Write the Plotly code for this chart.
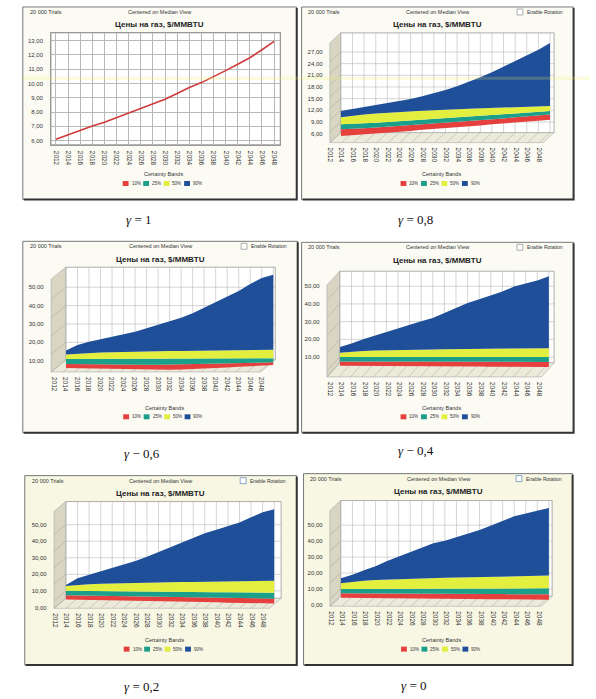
import plotly.graph_objects as go

W, H = 596, 699

years = [2012, 2014, 2016, 2018, 2020, 2022, 2024, 2026, 2028, 2030,
         2032, 2034, 2036, 2038, 2040, 2042, 2044, 2046, 2048]

band_names = ["10%", "25%", "50%", "90%"]
band_colors = ["#e5403d", "#1b9e8a", "#e3ef3e", "#1f4f99"]
line_color = "#cf3b3b"

# gamma = 1 : every certainty band collapses onto the median line
g10_median = [6.10, 6.42, 6.75, 7.02, 7.28, 7.60, 7.92, 8.24, 8.56, 8.90,
              9.30, 9.72, 10.06, 10.46, 10.90, 11.34, 11.80, 12.36, 12.95]

# gamma = 0,8 : visible edges of the ribbons (red bottom, then tops)
g08_red_lo = [5.4, 5.6, 5.8, 6.0, 6.2, 6.5, 6.7, 7.0, 7.2, 7.4,
              7.7, 7.9, 8.1, 8.4, 8.6, 8.8, 9.1, 9.3, 9.6]
g08_red_hi = [7.1, 7.2, 7.4, 7.6, 7.8, 8.0, 8.2, 8.4, 8.6, 8.8,
              9.0, 9.2, 9.5, 9.7, 9.9, 10.2, 10.4, 10.6, 10.9]
g08_teal_hi = [8.4, 8.5, 8.7, 8.8, 9.0, 9.2, 9.4, 9.5, 9.7, 9.9,
               10.1, 10.3, 10.5, 10.7, 10.9, 11.1, 11.3, 11.6, 11.8]
g08_yellow_hi = [10.2, 10.6, 10.9, 11.2, 11.4, 11.6, 11.8, 11.9, 12.0, 12.2,
                 12.3, 12.4, 12.5, 12.6, 12.7, 12.8, 12.9, 13.0, 13.1]
g08_blue_hi = [11.8, 12.3, 12.9, 13.4, 13.8, 14.3, 14.9, 15.6, 16.4, 17.2,
               18.2, 19.3, 20.5, 21.8, 23.2, 24.6, 26.0, 27.6, 29.3]

# gamma = 0,6
g06_red_lo = [6.0, 5.9, 5.7, 5.6, 5.4, 5.3, 5.2, 5.1, 5.1, 5.1,
              5.2, 5.4, 5.7, 6.0, 6.3, 6.7, 7.0, 7.3, 7.6]
g06_red_hi = [8.2, 8.1, 8.0, 8.0, 7.9, 7.9, 7.8, 7.8, 7.8, 7.9,
              8.0, 8.1, 8.3, 8.4, 8.6, 8.7, 8.9, 9.0, 9.1]
g06_teal_hi = [10.9, 10.9, 11.0, 11.0, 11.0, 11.0, 11.1, 11.1, 11.1, 11.1,
               11.2, 11.2, 11.2, 11.2, 11.2, 11.3, 11.3, 11.3, 11.3]
g06_yellow_hi = [13.3, 13.8, 14.1, 14.4, 14.6, 14.8, 14.9, 15.0, 15.1, 15.2,
                 15.3, 15.4, 15.5, 15.6, 15.7, 15.8, 15.8, 15.9, 16.0]
g06_blue_hi = [15.5, 18.5, 20.3, 21.6, 22.9, 24.2, 25.7, 27.6, 29.4, 31.3,
               33.4, 35.8, 38.8, 41.8, 44.9, 48.0, 51.8, 55.0, 56.8]

# gamma = 0,4
g04_red_lo = [5.0, 5.0, 4.9, 4.9, 4.8, 4.8, 4.8, 4.7, 4.7, 4.7,
              4.6, 4.6, 4.6, 4.5, 4.5, 4.5, 4.4, 4.4, 4.4]
g04_red_hi = [7.5, 7.5, 7.5, 7.4, 7.4, 7.4, 7.4, 7.3, 7.3, 7.3,
              7.3, 7.3, 7.3, 7.2, 7.2, 7.2, 7.2, 7.2, 7.2]
g04_teal_hi = [10.0, 10.0, 10.1, 10.1, 10.1, 10.0, 10.0, 10.0, 9.9, 9.9,
               9.9, 10.0, 10.0, 10.0, 10.0, 10.1, 10.1, 10.0, 10.0]
g04_yellow_hi = [12.4, 13.0, 13.4, 13.7, 13.9, 14.0, 14.1, 14.2, 14.3, 14.4,
                 14.5, 14.5, 14.6, 14.7, 14.8, 14.8, 14.9, 14.9, 15.0]
g04_blue_hi = [15.6, 17.6, 20.1, 22.2, 24.2, 26.2, 28.2, 30.2, 32.1, 34.8,
               37.8, 40.5, 42.7, 44.8, 47.0, 49.8, 51.4, 53.2, 55.6]

# gamma = 0,2
g02_red_lo = [4.8, 4.7, 4.5, 4.4, 4.3, 4.1, 4.0, 3.9, 3.7, 3.6,
              3.5, 3.3, 3.2, 3.1, 2.9, 2.8, 2.7, 2.5, 2.4]
g02_red_hi = [7.3, 7.2, 7.1, 7.0, 6.9, 6.8, 6.7, 6.5, 6.4, 6.3,
              6.2, 6.1, 6.0, 5.9, 5.8, 5.6, 5.5, 5.4, 5.3]
g02_teal_hi = [10.1, 10.0, 10.0, 9.9, 9.8, 9.8, 9.7, 9.6, 9.6, 9.5,
               9.4, 9.4, 9.3, 9.2, 9.2, 9.1, 9.0, 9.0, 8.9]
g02_yellow_hi = [12.9, 13.6, 14.0, 14.3, 14.5, 14.7, 14.9, 15.0, 15.1, 15.2,
                 15.3, 15.4, 15.5, 15.6, 15.7, 15.8, 15.9, 16.0, 16.1]
g02_blue_hi = [13.5, 17.6, 19.8, 21.9, 24.0, 25.9, 28.0, 30.6, 33.5, 36.4,
               39.5, 42.3, 44.9, 47.0, 49.2, 51.3, 54.5, 57.5, 59.4]

# gamma = 0
g00_red_lo = [4.5, 4.4, 4.4, 4.3, 4.2, 4.2, 4.1, 4.0, 4.0, 3.9,
              3.8, 3.8, 3.7, 3.6, 3.6, 3.5, 3.4, 3.3, 3.2]
g00_red_hi = [7.3, 7.3, 7.2, 7.2, 7.2, 7.1, 7.1, 7.1, 7.0, 7.0,
              7.0, 6.9, 6.9, 6.9, 6.8, 6.8, 6.8, 6.7, 6.7]
g00_teal_hi = [10.0, 10.0, 10.0, 10.1, 10.1, 10.1, 10.1, 10.2, 10.2, 10.2,
               10.2, 10.3, 10.3, 10.3, 10.3, 10.3, 10.4, 10.4, 10.4]
g00_yellow_hi = [13.6, 14.6, 15.2, 15.6, 15.9, 16.2, 16.4, 16.6, 16.8, 17.0,
                 17.2, 17.4, 17.6, 17.8, 17.9, 18.0, 18.2, 18.3, 18.4]
g00_blue_hi = [16.7, 19.0, 21.8, 24.3, 27.5, 30.3, 33.0, 35.6, 38.6, 40.3,
               42.5, 44.6, 47.0, 49.8, 52.5, 55.5, 57.3, 59.0, 60.8]

captions = ["<i>γ</i> = 1", "<i>γ</i> = 0,8", "<i>γ</i> − 0,6",
            "<i>γ</i> − 0,4", "<i>γ</i> = 0,2", "<i>γ</i> = 0"]

y_ticks = [
    [6, 7, 8, 9, 10, 11, 12, 13],
    [6, 9, 12, 15, 18, 21, 24, 27],
    [10, 20, 30, 40, 50],
    [10, 20, 30, 40, 50],
    [0, 10, 20, 30, 40, 50],
    [0, 10, 20, 30, 40, 50],
]

panel_edges = [
    [g10_median],
    [g08_red_lo, g08_red_hi, g08_teal_hi, g08_yellow_hi, g08_blue_hi],
    [g06_red_lo, g06_red_hi, g06_teal_hi, g06_yellow_hi, g06_blue_hi],
    [g04_red_lo, g04_red_hi, g04_teal_hi, g04_yellow_hi, g04_blue_hi],
    [g02_red_lo, g02_red_hi, g02_teal_hi, g02_yellow_hi, g02_blue_hi],
    [g00_red_lo, g00_red_hi, g00_teal_hi, g00_yellow_hi, g00_blue_hi],
]

# layout in pixels: panel box, plot area, axis ranges, 3d wall (depth x, depth y)
panels = [
    dict(box=(8, 7, 289, 200), plot=(37, 33, 272, 145), xr=(2011.2, 2049.0),
         yr=(5.72, 13.54), wall=(0, 0), shift=0, cap=(127, 220), tint="#fbfbf4"),
    dict(box=(294, 7, 573, 200), plot=(334, 33, 553, 143), xr=(2011.95, 2048.7),
         yr=(3.7, 31.9), wall=(11, 10), shift=-11, cap=(411, 220), tint="#fbfbf4"),
    dict(box=(8, 242, 290, 434), plot=(52, 268, 267, 373), xr=(2011.95, 2048.35),
         yr=(3.86, 60.9), wall=(15, 12), shift=-12, cap=(130, 455), tint="#fbfbf4"),
    dict(box=(294, 243, 573, 434), plot=(333, 272, 553, 378), xr=(2011.95, 2048.9),
         yr=(-1.27, 58.5), wall=(13, 14), shift=-10, cap=(411, 452), tint="#fbfbf4"),
    dict(box=(10, 477, 289, 667), plot=(52, 503, 273, 610), xr=(2011.95, 2049.2),
         yr=(-0.5, 64), wall=(12, 10), shift=-11, cap=(130, 688), tint="#f7f7e4"),
    dict(box=(296, 475, 572, 667), plot=(334, 502, 551, 608), xr=(2011.95, 2048.56),
         yr=(-0.8, 65.4), wall=(11, 10), shift=-10, cap=(409, 687), tint="#f7f7e4"),
]

SANS = "Liberation Sans, Arial, sans-serif"
SERIF = "Liberation Serif, Times New Roman, serif"
grid = "#b8b8b8"


def px(x):
    return x / W


def py(y):
    return 1 - y / H


def seg(xa, ya, xb, yb, color, width=0.6):
    return dict(type="line", xref="paper", yref="paper", layer="below",
                x0=px(xa), y0=py(ya), x1=px(xb), y1=py(yb),
                line=dict(color=color, width=width))


fig = go.Figure()
shapes = []
annotations = []
axes = {}

for i, p in enumerate(panels):
    n = "" if i == 0 else str(i + 1)
    xa, ya = "x" + n, "y" + n
    bx0, by0, bx1, by1 = p["box"]
    x0, y0, x1, y1 = p["plot"]
    d, e = p["wall"]
    ylo, yhi = p["yr"]
    xlo, xhi = p["xr"]
    cx = (bx0 + bx1) / 2
    edges = panel_edges[i]
    flat = d == 0

    # traces
    if len(edges) == 1:
        fig.add_trace(go.Scatter(x=years, y=edges[0], mode="lines",
                                 line=dict(color=line_color, width=1.6),
                                 xaxis=xa, yaxis=ya, showlegend=False, hoverinfo="skip"))
    else:
        fig.add_trace(go.Scatter(x=years, y=edges[0], mode="lines", line=dict(width=0),
                                 xaxis=xa, yaxis=ya, showlegend=False, hoverinfo="skip"))
        for k in range(4):
            fig.add_trace(go.Scatter(x=years, y=edges[k + 1], mode="lines",
                                     line=dict(width=0, color=band_colors[k]),
                                     fill="tonexty", fillcolor=band_colors[k],
                                     name=band_names[k], xaxis=xa, yaxis=ya,
                                     showlegend=False, hoverinfo="skip"))

    axes["xaxis" + n] = dict(
        domain=[px(x0), px(x1)], range=list(p["xr"]), anchor=ya,
        tickvals=years, ticktext=[str(v) for v in years], tickangle=90,
        tickfont=dict(family=SANS, size=6.5, color="#333"),
        showgrid=flat, gridcolor=grid, gridwidth=0.7, zeroline=False,
        showline=flat, linecolor="#999", linewidth=0.8, mirror=True,
        ticks="", ticklabelstandoff=4, ticklabelshift=p["shift"], fixedrange=True)
    axes["yaxis" + n] = dict(
        domain=[py(y1), py(y0)], range=list(p["yr"]), anchor=xa,
        tickvals=y_ticks[i], tickformat=".2f",
        tickfont=dict(family=SANS, size=6, color="#333"),
        showgrid=flat, gridcolor=grid, gridwidth=0.7, zeroline=False,
        showline=flat, linecolor="#999", linewidth=0.8, mirror=True,
        ticks="", ticklabelstandoff=d + 6, fixedrange=True)

    # panel frame
    shapes.append(dict(type="rect", xref="paper", yref="paper", layer="below",
                       x0=px(bx0), x1=px(bx1), y0=py(by1), y1=py(by0),
                       fillcolor=p["tint"], line=dict(color="#777", width=1)))
    shapes.append(dict(type="path", xref="paper", yref="paper", layer="below",
                       path=f"M{px(bx0 + 1)},{py(by1)} L{px(bx1)},{py(by1)} L{px(bx1)},{py(by0 + 1)}",
                       line=dict(color="#333", width=2)))
    # back wall
    shapes.append(dict(type="rect", xref="paper", yref="paper", layer="below",
                       x0=px(x0), x1=px(x1), y0=py(y1 - e), y1=py(y0),
                       fillcolor="white", line=dict(color="#999", width=0.8)))

    if not flat:
        def vy(v):
            return y1 - (v - ylo) / (yhi - ylo) * (y1 - y0)

        def vx(t):
            return x0 + (t - xlo) / (xhi - xlo) * (x1 - x0)

        # grid on the back wall
        for t in years:
            shapes.append(seg(vx(t), y0, vx(t), y1 - e, grid))
        for v in y_ticks[i]:
            if vy(v) < y1 - e:
                shapes.append(seg(x0, vy(v), x1, vy(v), grid))
        # floor
        floor = (f"M{px(x0 - d)},{py(y1)} L{px(x1 - d)},{py(y1)} "
                 f"L{px(x1)},{py(y1 - e)} L{px(x0)},{py(y1 - e)} Z")
        shapes.append(dict(type="path", xref="paper", yref="paper", layer="below",
                           path=floor, fillcolor="#eceadb", line=dict(color="#aaa", width=0.6)))
        for t in years:
            shapes.append(seg(vx(t), y1 - e, vx(t) - d, y1, "#b4b2a2"))
        # left wall
        wall = (f"M{px(x0)},{py(y1 - e)} L{px(x0)},{py(y0)} "
                f"L{px(x0 - d)},{py(y0 + e)} L{px(x0 - d)},{py(y1)} Z")
        shapes.append(dict(type="path", xref="paper", yref="paper", layer="below",
                           path=wall, fillcolor="#d8d6c2", line=dict(color="#aaa", width=0.6)))
        for v in y_ticks[i]:
            if vy(v) < y1 - e:
                shapes.append(seg(x0, vy(v), x0 - d, vy(v) + e, "#b0ae9c"))

    # header texts
    annotations.append(dict(x=px(bx0 + 5), y=py(by0 + 5), text="20 000 Trials",
                            xanchor="left", yanchor="middle",
                            font=dict(family=SANS, size=5.5, color="#333")))
    annotations.append(dict(x=px(cx), y=py(by0 + 5), text="Centered on Median View",
                            xanchor="center", yanchor="middle",
                            font=dict(family=SANS, size=5.5, color="#333")))
    if i > 0:
        annotations.append(dict(x=px(bx1 - 9), y=py(by0 + 5), text="Enable Rotation",
                                xanchor="right", yanchor="middle",
                                font=dict(family=SANS, size=5, color="#333")))
        shapes.append(dict(type="rect", xref="paper", yref="paper", layer="above",
                           x0=px(bx1 - 58), x1=px(bx1 - 52), y0=py(by0 + 8), y1=py(by0 + 2),
                           fillcolor="white",
                           line=dict(color="#6b8fc0" if i >= 4 else "#999", width=0.8)))
    annotations.append(dict(x=px(cx), y=py(by0 + 18), text="<b>Цены на газ, $/MMBTU</b>",
                            xanchor="center", yanchor="middle",
                            font=dict(family=SANS, size=8, color="#222")))

    # certainty band key
    lx = cx + 4
    annotations.append(dict(x=px(lx), y=py(by1 - 25), text="Certainty Bands",
                            xanchor="center", yanchor="middle",
                            font=dict(family=SANS, size=5.5, color="#333")))
    for k in range(4):
        sx = lx - 42 + 21 * k
        sy = by1 - 16
        shapes.append(dict(type="rect", xref="paper", yref="paper", layer="above",
                           x0=px(sx), x1=px(sx + 6), y0=py(sy + 2.5), y1=py(sy - 2.5),
                           fillcolor=band_colors[k], line=dict(width=0)))
        annotations.append(dict(x=px(sx + 7), y=py(sy), text=band_names[k],
                                xanchor="left", yanchor="middle",
                                font=dict(family=SANS, size=4.5, color="#333")))

    # caption
    annotations.append(dict(x=px(p["cap"][0]), y=py(p["cap"][1]), text=captions[i],
                            xanchor="center", yanchor="middle",
                            font=dict(family=SERIF, size=13, color="#111")))

# faint yellow streak left by the scanner across the top row
shapes.append(dict(type="rect", xref="paper", yref="paper", layer="above",
                   x0=px(8), x1=px(590), y0=py(80), y1=py(77),
                   fillcolor="rgba(240, 240, 100, 0.22)", line=dict(width=0)))

for a in annotations:
    a.update(xref="paper", yref="paper", showarrow=False)

fig.update_layout(
    width=W, height=H, margin=dict(l=0, r=0, t=0, b=0),
    paper_bgcolor="white", plot_bgcolor="rgba(0,0,0,0)",
    separators=", ", showlegend=False,
    shapes=shapes, annotations=annotations, **axes)

fig.write_html("out.html", config={"displayModeBar": False},
               post_script="document.body.style.margin = '0';")
